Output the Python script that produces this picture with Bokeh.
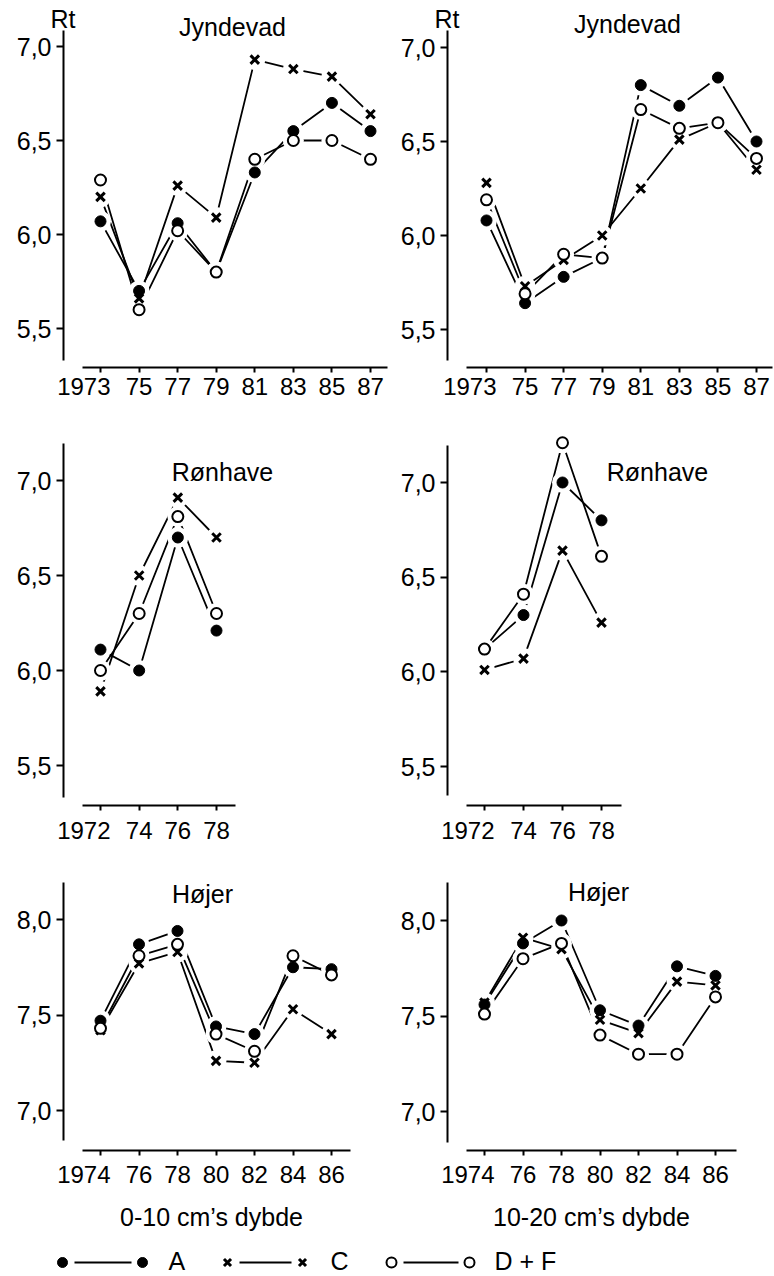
from bokeh.plotting import figure
from bokeh.models import Range1d, FixedTicker, CustomJSTickFormatter, Label
from bokeh.layouts import column, row
from bokeh.embed import file_html
from bokeh.resources import INLINE

FONT = "Liberation Sans"
FS = "24px"
FS_T = "25px"
NB = "\u00a0"
LBL_SHIFT = 7  # Label baselines render a few px low; compensate

# ---------------- data ----------------
series_names = ["A", "C", "D + F"]

years_j = [1973, 1975, 1977, 1979, 1981, 1983, 1985, 1987]
labels_j = ["1973", "75", "77", "79", "81", "83", "85", "87"]
j1_A = [6.07, 5.70, 6.06, 5.80, 6.33, 6.55, 6.70, 6.55]
j1_C = [6.20, 5.66, 6.26, 6.09, 6.93, 6.88, 6.84, 6.64]
j1_DF = [6.29, 5.60, 6.02, 5.80, 6.40, 6.50, 6.50, 6.40]
j2_A = [6.08, 5.64, 5.78, 5.88, 6.80, 6.69, 6.84, 6.50]
j2_C = [6.28, 5.73, 5.87, 6.00, 6.25, 6.51, 6.60, 6.35]
j2_DF = [6.19, 5.69, 5.90, 5.88, 6.67, 6.57, 6.60, 6.41]

years_r = [1972, 1974, 1976, 1978]
labels_r = ["1972", "74", "76", "78"]
r1_A = [6.11, 6.00, 6.70, 6.21]
r1_C = [5.89, 6.50, 6.91, 6.70]
r1_DF = [6.00, 6.30, 6.81, 6.30]
r2_A = [6.12, 6.30, 7.00, 6.80]
r2_C = [6.01, 6.07, 6.64, 6.26]
r2_DF = [6.12, 6.41, 7.21, 6.61]

years_h = [1974, 1976, 1978, 1980, 1982, 1984, 1986]
labels_h = ["1974", "76", "78", "80", "82", "84", "86"]
h1_A = [7.47, 7.87, 7.94, 7.44, 7.40, 7.75, 7.74]
h1_C = [7.42, 7.77, 7.83, 7.26, 7.25, 7.53, 7.40]
h1_DF = [7.43, 7.81, 7.87, 7.40, 7.31, 7.81, 7.71]
h2_A = [7.56, 7.88, 8.00, 7.53, 7.45, 7.76, 7.71]
h2_C = [7.57, 7.91, 7.85, 7.48, 7.41, 7.68, 7.66]
h2_DF = [7.51, 7.80, 7.88, 7.40, 7.30, 7.30, 7.60]

yticks_low = [5.5, 6.0, 6.5, 7.0]
yticks_high = [7.0, 7.5, 8.0]

site_j = "Jyndevad"
site_r = "Rønhave"
site_h = "Højer"
depth_1 = "0-10 cm’s dybde"
depth_2 = "10-20 cm’s dybde"
unit_label = "Rt"

# ---------------- styles ----------------
STYLE = {
    "A": dict(marker="circle", size=11, fill_color="black", line_color="black", line_width=1),
    "C": dict(marker="x", size=12, fill_color=None, line_color="black", line_width=3),
    "D + F": dict(marker="circle", size=11, fill_color="white", line_color="black", line_width=2),
}


def lin(v1, p1, v2, p2):
    k = (v2 - v1) / (p2 - p1)
    return lambda p: v1 + (p - p1) * k


def txt(p, fx, fy, x, y, text, align="center", size=FS_T):
    p.add_layout(Label(x=fx(x), y=fy(y - LBL_SHIFT), text=text, text_align=align,
                       text_baseline="alphabetic", text_font=FONT, text_font_size=size,
                       text_color="black"))


def panel(g, years, xlabels, ser, yticks, title, xlabel=None, rt=False):
    fx = lin(*g["xt"])
    fy = lin(*g["yt"])
    ox, oy, w, h = g["ox"], g["oy"], g["w"], g["h"]
    p = figure(width=w, height=h, output_backend="svg", toolbar_location=None,
               x_range=Range1d(fx(ox), fx(ox + w)),
               y_range=Range1d(fy(oy + h), fy(oy)),
               min_border=0, min_border_left=0, min_border_right=0,
               min_border_top=0, min_border_bottom=0)
    p.outline_line_color = None
    p.grid.visible = False
    p.background_fill_color = "white"
    p.border_fill_color = "white"

    for ax in (p.xaxis[0], p.yaxis[0]):
        ax.axis_line_width = 2
        ax.axis_line_color = "black"
        ax.major_tick_line_width = 2
        ax.major_tick_line_color = "black"
        ax.major_tick_in = 0
        ax.minor_tick_line_color = None
        ax.major_label_text_font = FONT
        ax.major_label_text_color = "black"

    xa = p.xaxis[0]
    xa.major_label_text_font_size = FS
    xa.fixed_location = fy(g["xaxis"])
    xa.ticker = FixedTicker(ticks=years)
    first = xlabels[0] + NB * 5
    xa.major_label_overrides = {y: (first if i == 0 else l)
                                for i, (y, l) in enumerate(zip(years, xlabels))}
    xa.major_tick_out = 5
    xa.major_label_standoff = g["xstand"]
    xa.bounds = (fx(g["xb"][0]), fx(g["xb"][1]))

    ya = p.yaxis[0]
    ya.major_label_text_font_size = FS_T
    ya.fixed_location = fx(g["yaxis"])
    ya.ticker = FixedTicker(ticks=yticks)
    ya.formatter = CustomJSTickFormatter(code="return tick.toFixed(1).replace('.', ',');")
    ya.major_tick_out = 7
    ya.major_label_standoff = 5
    ya.bounds = (fy(g["yb"][1]), fy(g["yb"][0]))

    # lines
    for name, vals in ser:
        p.line(years, vals, line_color="black", line_width=1.8)
    # white halos -> gaps at line ends
    for name, vals in ser:
        p.scatter(years, vals, marker="circle", size=21, fill_color="white", line_color=None)
    # markers
    for name, vals in ser:
        p.scatter(years, vals, **STYLE[name])

    tx, ty = g["title"]
    txt(p, fx, fy, tx, ty, title)
    if rt:
        txt(p, fx, fy, g["yaxis"] - 13, 25, unit_label, align="left")
    if xlabel:
        lx, ly = g["xlab"]
        txt(p, fx, fy, lx, ly, xlabel)
    return p


G1 = dict(ox=0, oy=0, w=391, h=400, yaxis=63, xaxis=367,
          xt=(1973, 100, 1987, 370), yt=(7.0, 46, 5.5, 328), xb=(82, 387), yb=(30, 360),
          xstand=0, title=(232, 33))
G2 = dict(ox=391, oy=0, w=383, h=400, yaxis=447, xaxis=367,
          xt=(1973, 486, 1987, 756), yt=(7.0, 47, 5.5, 329), xb=(466, 772), yb=(30, 360),
          xstand=0, title=(627, 30))
G3 = dict(ox=0, oy=400, w=391, h=445, yaxis=63, xaxis=805,
          xt=(1972, 100, 1978, 216), yt=(7.0, 480, 5.5, 765), xb=(82, 235), yb=(443, 797),
          xstand=6, title=(222, 478))
G4 = dict(ox=391, oy=400, w=383, h=445, yaxis=447, xaxis=805,
          xt=(1972, 484, 1978, 601), yt=(7.0, 482, 5.5, 766), xb=(466, 621), yb=(445, 795),
          xstand=6, title=(657, 478))
G5 = dict(ox=0, oy=845, w=391, h=395, yaxis=63, xaxis=1150,
          xt=(1974, 100, 1986, 331), yt=(8.0, 919, 7.0, 1110), xb=(82, 350), yb=(882, 1140),
          xstand=5, title=(202, 900), xlab=(211, 1223))
G6 = dict(ox=391, oy=845, w=383, h=395, yaxis=447, xaxis=1150,
          xt=(1974, 484, 1986, 715), yt=(8.0, 920, 7.0, 1111), xb=(466, 736), yb=(882, 1142),
          xstand=5, title=(598, 898), xlab=(591, 1223))

p1 = panel(G1, years_j, labels_j, [("A", j1_A), ("C", j1_C), ("D + F", j1_DF)],
           yticks_low, site_j, rt=True)
p2 = panel(G2, years_j, labels_j, [("A", j2_A), ("C", j2_C), ("D + F", j2_DF)],
           yticks_low, site_j, rt=True)
p3 = panel(G3, years_r, labels_r, [("A", r1_A), ("C", r1_C), ("D + F", r1_DF)],
           yticks_low, site_r)
p4 = panel(G4, years_r, labels_r, [("A", r2_A), ("C", r2_C), ("D + F", r2_DF)],
           yticks_low, site_r)
p5 = panel(G5, years_h, labels_h, [("A", h1_A), ("C", h1_C), ("D + F", h1_DF)],
           yticks_high, site_h, xlabel=depth_1)
p6 = panel(G6, years_h, labels_h, [("A", h2_A), ("C", h2_C), ("D + F", h2_DF)],
           yticks_high, site_h, xlabel=depth_2)

# ---------------- legend strip ----------------
leg = figure(width=774, height=36, output_backend="svg", toolbar_location=None,
             x_range=Range1d(0, 774), y_range=Range1d(1276, 1240),
             min_border=0, min_border_left=0, min_border_right=0,
             min_border_top=0, min_border_bottom=0)
leg.axis.visible = False
leg.grid.visible = False
leg.outline_line_color = None
LEG_Y = 1262
leg_keys = [(62, 142, 168), (227, 302, 330), (391, 469, 494)]
for name, (xa_, xb_, xt_) in zip(series_names, leg_keys):
    leg.segment(x0=[xa_ + 12], y0=[LEG_Y], x1=[xb_ - 11], y1=[LEG_Y],
                line_color="black", line_width=1.8)
    st = dict(STYLE[name])
    st["size"] = 10
    leg.scatter([xa_, xb_], [LEG_Y, LEG_Y], **st)
    leg.add_layout(Label(x=xt_, y=LEG_Y + 5 - LBL_SHIFT, text=name, text_align="left",
                         text_baseline="alphabetic", text_font=FONT, text_font_size=FS_T,
                         text_color="black"))

layout = column(row(p1, p2), row(p3, p4), row(p5, p6), leg)
open("out.html", "w").write(file_html(layout, INLINE))
